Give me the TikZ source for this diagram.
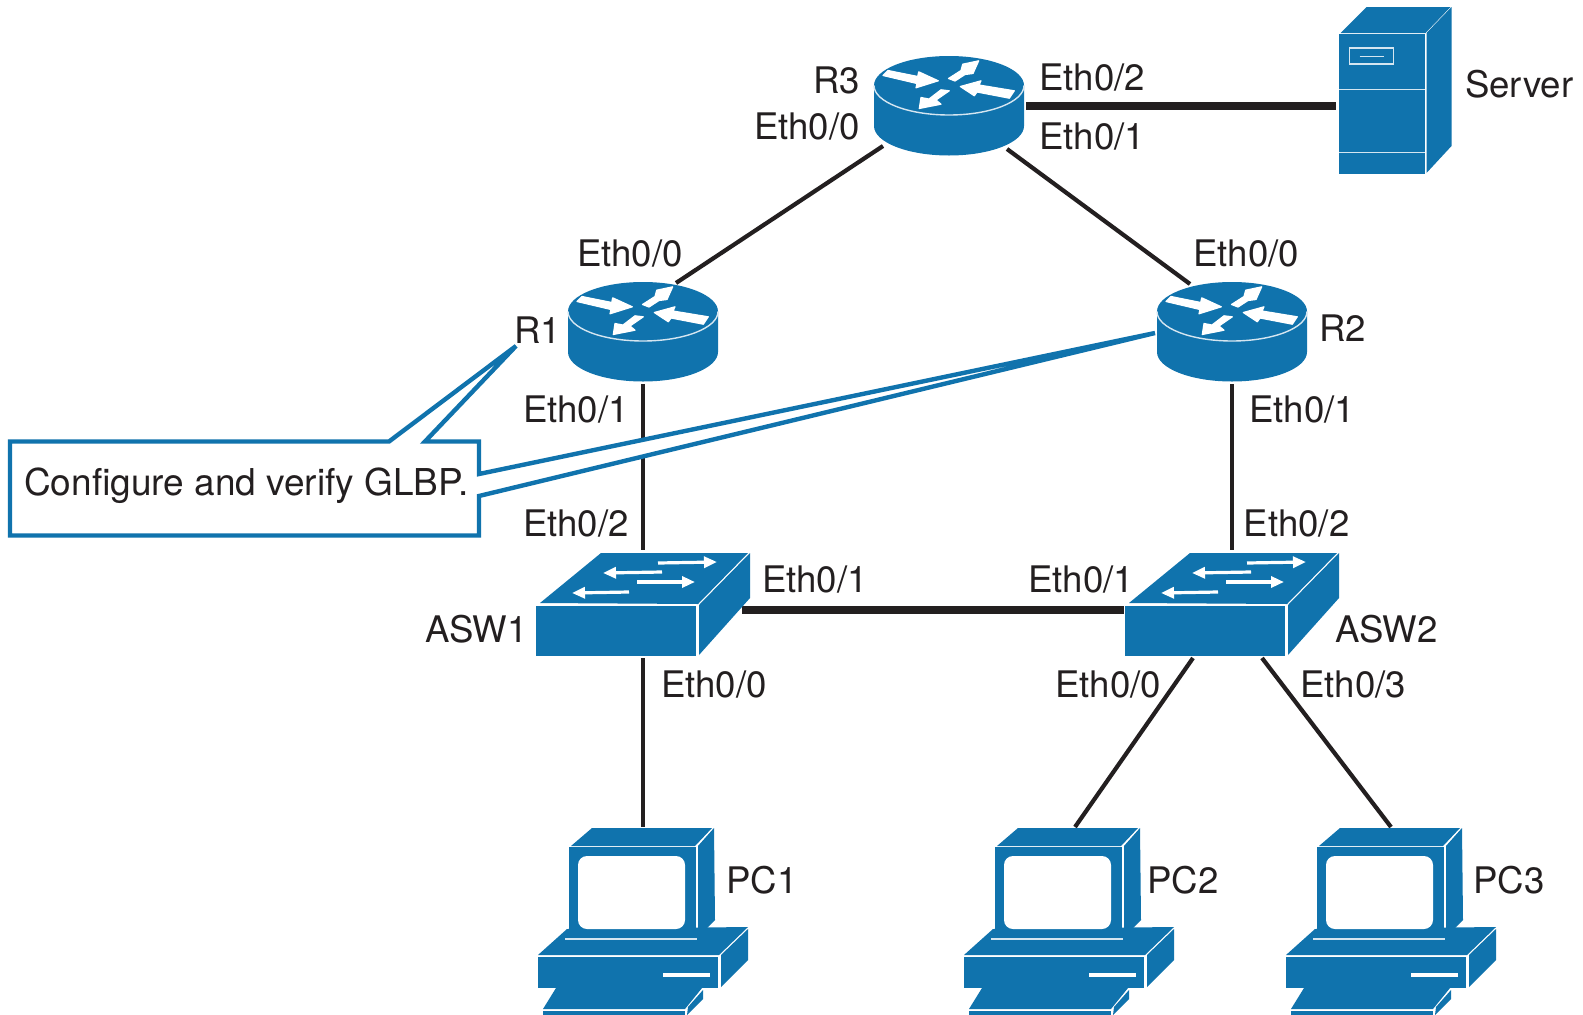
\documentclass[tikz,border=0pt]{standalone}
\usepackage{fontspec}
\setmainfont{TeX Gyre Heros}
\usetikzlibrary{arrows.meta}
\definecolor{ciscoblue}{HTML}{1073AD}
\definecolor{seam}{HTML}{D5E6F1}
\definecolor{inkdark}{HTML}{231F20}
\tikzset{
  x=1pt,y=-1pt,
  face/.style={fill=ciscoblue,draw=none},
  seamline/.style={draw=seam,line width=1.4pt},
  rarrow/.style={fill=white,draw=white,line width=1.2pt,line join=round},
  sarrow/.style={draw=white,line width=3.2pt,-{Triangle[length=13pt,width=11pt]}},
  link/.style={draw=inkdark,line width=4.2pt},
  fatlink/.style={draw=inkdark,line width=7.4pt},
  lbl/.style={inner sep=0pt,text=inkdark,font=\fontsize{36.6}{40}\selectfont},
  device/.style={inner sep=0pt,draw=none},
  callout/.style={draw=ciscoblue,fill=white,line width=4.4pt,line join=miter},
  pics/router/.style={code={
    \path[face] (-75,0) -- (-75,40.5) arc[start angle=180,end angle=360,x radius=75pt,y radius=29.5pt]
      -- (75,0) arc[start angle=0,end angle=180,x radius=75pt,y radius=29.5pt] -- cycle;
    \path[seamline] (-75,0) arc[start angle=180,end angle=360,x radius=75pt,y radius=29.5pt];
    \path[rarrow] (-66,-10) -- (-61,-15) -- (-31.3,-9) -- (-30.3,-13.7) -- (-10.7,-4.7) -- (-33,2.3) -- (-32,-2) -- cycle;
    \path[rarrow] (29.7,-24.7) -- (13.7,-21.3) -- (12,-15) -- (-0.5,-7) -- (6,-4.5) -- (16,-11) -- (24,-12) -- cycle;
    \path[rarrow] (11.3,1) -- (32,-4.7) -- (30,-0.5) -- (65.3,5.3) -- (60.3,12.7) -- (28,6.5) -- (25.3,10.3) -- cycle;
    \path[rarrow] (-29.7,23) -- (-28,12) -- (-20,13.5) -- (-8,4.3) -- (0.3,5.3) -- (-13,14.5) -- (-8,18.7) -- cycle;
  }},
  pics/switchbox/.style={code={
    \path[face] (4,-3) -- (65,-53) -- (212,-53) -- (162,-2) -- cycle;
    \path[face] (0,0) rectangle (160,50);
    \path[face] (163,-1) -- (214,-53) -- (214,-8) -- (163,49) -- cycle;
    \draw[sarrow] (122,-43) -- (181,-44);
    \draw[sarrow] (126,-34) -- (67,-33);
    \draw[sarrow] (101,-24) -- (159,-24);
    \draw[sarrow] (93,-14) -- (36,-13);
  }},
  pics/pcbox/.style={code={
    % base
    \path[face] (-2,82) -- (-31,108) -- (150,108) -- (179,80) -- cycle;
    \path[face] (-31,110) rectangle (149,141);
    \path[face] (152,108) -- (179,82) -- (179,113) -- (152,140) -- cycle;
    \path[fill=white] (94,126) rectangle (141,130);
    % monitor
    \path[face] (2,-1) -- (23,-19) -- (143,-19) -- (126,-1) -- cycle;
    \path[face] (0,0) rectangle (127,91);
    \path[face] (129,-1) -- (145,-19) -- (146,73) -- (129,90) -- cycle;
    \path[fill=white,rounded corners=9pt] (9,9) rectangle (116,82);
    \path[seamline] (-4,92) -- (128,92);
    % keyboard
    \path[face] (-13,141) -- (133,141) -- (116,162) -- (-26,162) -- cycle;
    \path[face] (-26,164) rectangle (116,175);
    \path[face] (119,160) -- (134,143) -- (134,152) -- (118,168) -- cycle;
  }},
  pics/serverbox/.style={code={
    \path[face] (2,-1) -- (28,-27) -- (112,-27) -- (87,-1) -- cycle;
    \path[face] (0,0) rectangle (86,140);
    \path[face] (88,-1) -- (113,-27) -- (113,112) -- (88,139) -- cycle;
    \path[seamline] (0,55.5) -- (86,55.5);
    \path[seamline] (0,118.5) -- (86,118.5);
    \draw[seam,line width=1.6pt] (11,14) rectangle (55,30);
    \draw[seam,line width=1.6pt] (21,22.5) -- (45,22.5);
  }},
}
\begin{document}
\begin{tikzpicture}
\clip (0,0) rectangle (1583,1015);
\path[fill=white] (0,0) rectangle (1583,1015);

% device nodes
\node[device,minimum width=150pt,minimum height=100pt] (R3) at (949,106) {};
\node[device,minimum width=150pt,minimum height=100pt] (R1) at (643,332) {};
\node[device,minimum width=150pt,minimum height=100pt] (R2) at (1232,332) {};
\node[device,minimum width=113pt,minimum height=166pt] (Srv) at (1395,90) {};
\node[device,minimum width=214pt,minimum height=103pt] (ASW1) at (643,604) {};
\node[device,minimum width=214pt,minimum height=103pt] (ASW2) at (1232,604) {};
\node[device,minimum width=210pt,minimum height=187pt] (PC1) at (643,921) {};
\node[device,minimum width=210pt,minimum height=187pt] (PC2) at (1069,921) {};
\node[device,minimum width=210pt,minimum height=187pt] (PC3) at (1390,921) {};

% connector ends
\coordinate (R3e) at (1026,106);
\coordinate (Srvw) at (1336,106);
\coordinate (R3sw) at (883,146);
\coordinate (R3se) at (1007,149);
\coordinate (R1n) at (676,283);
\coordinate (R2n) at (1190,284);
\coordinate (R1s) at (643,384);
\coordinate (R2s) at (1232,384);
\coordinate (A1n) at (643,550);
\coordinate (A2n) at (1232,550);
\coordinate (A1e) at (742,610);
\coordinate (A2w) at (1124,610);
\coordinate (A1s) at (643,658);
\coordinate (A2sl) at (1193,658);
\coordinate (A2sr) at (1262,658);
\coordinate (P1n) at (643,827);
\coordinate (P2n) at (1075,827);
\coordinate (P3n) at (1391,827);

% connectors
\draw[fatlink] (R3e) -- (Srvw);
\draw[link] (R3sw) -- (R1n);
\draw[link] (R3se) -- (R2n);
\draw[link] (R1s) -- (A1n);
\draw[link] (R2s) -- (A2n);
\draw[fatlink] (A1e) -- (A2w);
\draw[link] (A1s) -- (P1n);
\draw[link] (A2sl) -- (P2n);
\draw[link] (A2sr) -- (P3n);

% icons
\pic at (949,85.5) {router};
\pic at (643,311.5) {router};
\pic at (1232,311.5) {router};
\pic at (1338.5,34) {serverbox};
\pic at (536,606) {switchbox};
\pic at (1125,606) {switchbox};
\pic at (569,847) {pcbox};
\pic at (995,847) {pcbox};
\pic at (1317,847) {pcbox};

% callout
\coordinate (tipR1) at (516,346);
\coordinate (tipR2) at (1155,333);
\draw[callout] (10,441.5) -- (389,441.5) -- (tipR1) -- (425,441.5) -- (479,441.5) -- (479,474)
  -- (tipR2) -- (479,496) -- (479,535.5) -- (10,535.5) -- cycle;
\node[lbl,anchor=base west,font=\fontsize{37}{40}\selectfont] (note) at (24,495) {Configure and verify GLBP.};

% labels
\node[lbl,anchor=base west] (l1) at (1039,90) {Eth0/2};
\node[lbl,anchor=base west] (l2) at (1039,149) {Eth0/1};
\node[lbl,anchor=base east] (l3) at (860,93) {R3};
\node[lbl,anchor=base east] (l4) at (860,139) {Eth0/0};
\node[lbl,anchor=base west] (l5) at (1465,97) {Server};
\node[lbl,anchor=base west] (l6) at (577,266) {Eth0/0};
\node[lbl,anchor=base east] (l7) at (561,343) {R1};
\node[lbl,anchor=base west] (l8) at (1193,266) {Eth0/0};
\node[lbl,anchor=base west] (l9) at (1319,341) {R2};
\node[lbl,anchor=base west] (l10) at (523,422) {Eth0/1};
\node[lbl,anchor=base west] (l11) at (523,536.5) {Eth0/2};
\node[lbl,anchor=base west] (l12) at (1249,422) {Eth0/1};
\node[lbl,anchor=base west] (l13) at (1243.5,536.5) {Eth0/2};
\node[lbl,anchor=base west] (l14) at (762,592) {Eth0/1};
\node[lbl,anchor=base west] (l15) at (1028,592) {Eth0/1};
\node[lbl,anchor=base west] (l16) at (425,642) {ASW1};
\node[lbl,anchor=base west] (l17) at (1335,642) {ASW2};
\node[lbl,anchor=base west] (l18) at (661,697) {Eth0/0};
\node[lbl,anchor=base west] (l19) at (1055,697) {Eth0/0};
\node[lbl,anchor=base west] (l20) at (1300,697) {Eth0/3};
\node[lbl,anchor=base west] (l21) at (726,893) {PC1};
\node[lbl,anchor=base west] (l22) at (1147,893) {PC2};
\node[lbl,anchor=base west] (l23) at (1473,893) {PC3};
\end{tikzpicture}
\end{document}
